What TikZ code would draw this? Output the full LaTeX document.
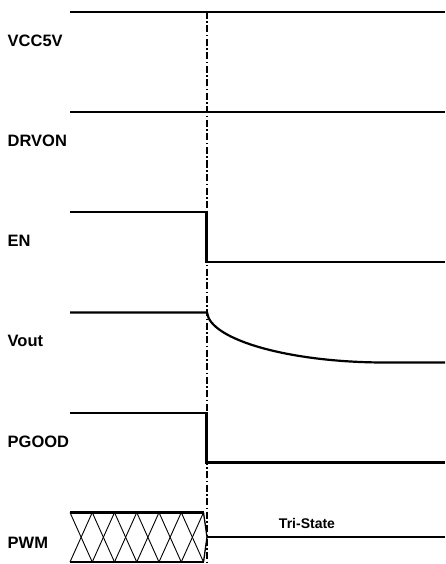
\documentclass[tikz,border=0pt]{standalone}
\usepackage{fontspec}
\setmainfont{Liberation Sans}
\begin{document}
\begin{tikzpicture}[x=1pt,y=-1pt,
  sig/.style={line width=2.2pt,line cap=butt,line join=miter},
  hatch/.style={line width=0.9pt},
  guide/.style={line width=1.2pt,dash pattern=on 7pt off 2.5pt on 1.5pt off 2.5pt},
  lbl/.style={anchor=west,inner sep=0pt,font=\fontsize{16.5}{19}\selectfont\bfseries},
  small/.style={inner sep=0pt,font=\fontsize{14}{16}\selectfont\bfseries}]
\useasboundingbox (0,0) rectangle (445,564);
% guide line
\coordinate (gtop) at (207,12);
\coordinate (gbot) at (207,564);
\draw[guide] (gtop) -- (gbot);
% labels
\node[lbl] (lvcc) at (7.5,41) {VCC5V};
\node[lbl] (ldrv) at (7.5,141) {DRVON};
\node[lbl] (len) at (7.5,241) {EN};
\node[lbl] (lvout) at (7.5,341) {Vout};
\node[lbl] (lpg) at (7.5,442) {PGOOD};
\node[lbl] (lpwm) at (7.5,543) {PWM};
% VCC5V
\draw[sig] (70,12) -- (445,12);
% DRVON
\draw[sig] (70,112) -- (445,112);
% EN
\draw[sig] (70,212.3) -- (206.5,212.3) -- (206.5,261.7) -- (445,261.7);
% Vout
\draw[sig] (70,312.5) -- (207,312.5) .. controls (210,340) and (290,362.5) .. (385,362.5) -- (445,362.5);
% PGOOD
\draw[sig] (70,413) -- (206.5,413) -- (206.5,462.5) -- (445,462.5);
% PWM
\draw[sig] (70,512.5) -- (203.5,512.5);
\draw[sig] (70,562) -- (203.5,562);
\foreach \i in {0,...,5}{
  \pgfmathsetmacro{\xa}{70+22.25*\i}
  \pgfmathsetmacro{\xb}{70+22.25*(\i+1)}
  \draw[hatch] (\xa,512.5) -- (\xb,562);
  \draw[hatch] (\xa,562) -- (\xb,512.5);
}
\draw[line width=1.3pt] (203.5,512.5) -- (207,537) -- (203.5,562);
\draw[sig] (207,537) -- (445,537);
\node[small] (tri) at (307,523) {Tri-State};
\end{tikzpicture}
\end{document}
